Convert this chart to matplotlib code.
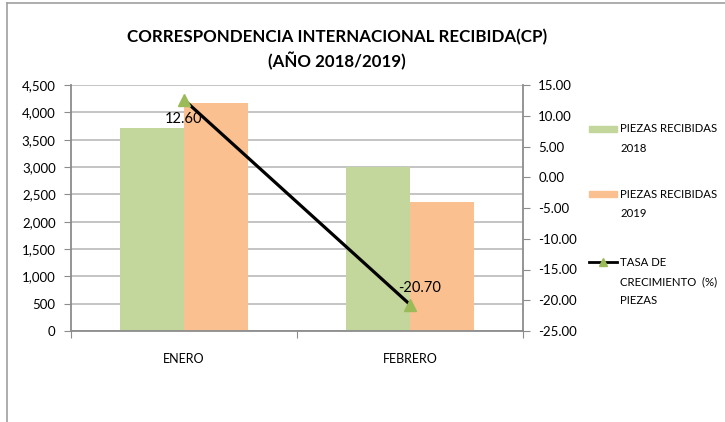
import matplotlib
matplotlib.use("Agg")
import matplotlib.pyplot as plt
from matplotlib.lines import Line2D
from matplotlib.patches import Rectangle
import numpy as np

plt.rcParams['font.family'] = ['Lato', 'DejaVu Sans']

categories = ["ENERO", "FEBRERO"]
piezas_2018 = [3718, 2993]
piezas_2019 = [4170, 2357]
tasa = [12.60, -20.70]
tasa_labels = ["12.60", "-20.70"]
left_ticks = [0, 500, 1000, 1500, 2000, 2500, 3000, 3500, 4000, 4500]
right_ticks = [15, 10, 5, 0, -5, -10, -15, -20, -25]

c2018 = "#C3D69B"
c2019 = "#FAC090"
cmark = "#9BBB59"
grid_c = "#BFBFBF"
axis_c = "#8C8C8C"

W, H = 725, 422
fig = plt.figure(figsize=(W/100, H/100), dpi=100)
ax = fig.add_axes([71/W, 1-331/H, (523-71)/W, (331-85)/H])

x = np.arange(len(categories))
bw = 0.285
ax.bar(x - bw/2, piezas_2018, bw, color=c2018, zorder=2)
ax.bar(x + bw/2, piezas_2019, bw, color=c2019, zorder=2)
ax.set_xlim(-0.5, 1.5)
ax.set_ylim(0, 4500)
ax.set_yticks(left_ticks)
ax.set_yticklabels([f"{v:,}" for v in left_ticks])
ax.yaxis.grid(True, color=grid_c, lw=1.3, zorder=0)
ax.set_axisbelow(True)
ax.set_xticks([-0.5, 0.5, 1.5])
ax.set_xticklabels([])
ax.set_xticks(x, minor=True)
ax.set_xticklabels(categories, minor=True)
ax.tick_params(axis='x', which='minor', length=0, pad=16, labelsize=9, colors='black')
ax.tick_params(axis='x', which='major', length=5, color=axis_c, direction='out')
ax.tick_params(axis='y', length=5, color=axis_c, labelsize=9.5, pad=6)
for s in ['top', 'right']:
    ax.spines[s].set_visible(False)
for s in ['left', 'bottom']:
    ax.spines[s].set_color(axis_c)
    ax.spines[s].set_linewidth(1.3)

ax2 = ax.twinx()
ax2.set_ylim(-25, 15)
ax2.set_yticks(right_ticks)
ax2.set_yticklabels([f"{v:.2f}" for v in right_ticks])
ax2.tick_params(axis='y', length=5, color=axis_c, labelsize=9.5, pad=6)
for s in ['top', 'left', 'bottom']:
    ax2.spines[s].set_visible(False)
ax2.spines['right'].set_color(axis_c)
ax2.spines['right'].set_linewidth(1.3)
ax2.plot(x, tasa, color='black', lw=2.3, marker='^', markersize=9,
         markerfacecolor=cmark, markeredgecolor=cmark, zorder=5)
offsets = [(0, -14), (7, 12)]
for xi, yi, lab, off in zip(x, tasa, tasa_labels, offsets):
    ax2.annotate(lab, (xi, yi), xytext=off, textcoords='offset points',
                 ha='center', va='center', fontsize=10.5)

# Title
fig.text(337/W, 1-37/H, "CORRESPONDENCIA INTERNACIONAL RECIBIDA(CP)",
         ha='center', va='center', fontsize=12.2, fontweight='bold')
fig.text(337/W, 1-61/H, "(AÑO 2018/2019)",
         ha='center', va='center', fontsize=12.2, fontweight='bold')

# Legend (manual)
leg = [
    ("patch", c2018, ["PIEZAS RECIBIDAS", "2018"], 129),
    ("patch", c2019, ["PIEZAS RECIBIDAS", "2019"], 194),
    ("line", None, ["TASA DE", "CRECIMIENTO  (%)", "PIEZAS"], 262),
]
for kind, col, lines, y0 in leg:
    if kind == "patch":
        fig.patches.append(Rectangle((589/W, 1-(y0+3)/H), 28/W, 6/H,
                                     transform=fig.transFigure, color=col))
    else:
        fig.lines.append(Line2D([589/W, 617/W], [1-y0/H, 1-y0/H], color='black', lw=2.0,
                                transform=fig.transFigure))
        fig.lines.append(Line2D([603/W], [1-y0/H], marker='^', markersize=6, color=cmark,
                                transform=fig.transFigure))
    for i, t in enumerate(lines):
        fig.text(620/W, 1-(y0 + 19.5*i)/H, t, ha='left', va='center', fontsize=8.2)

# outer border (left and top)
fig.lines.append(Line2D([7/W, 7/W], [0, 1-3/H], color='#A0A0A0', lw=1.2, transform=fig.transFigure))
fig.lines.append(Line2D([7/W, 1], [1-3/H, 1-3/H], color='#A0A0A0', lw=1.2, transform=fig.transFigure))

fig.savefig("out.png", dpi=100)
